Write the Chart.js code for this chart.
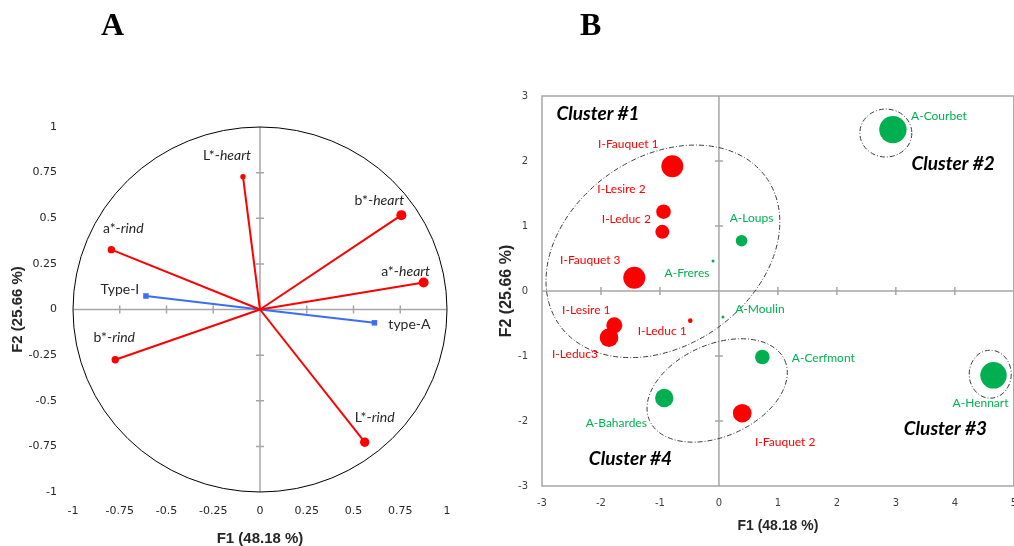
<!DOCTYPE html>
<html lang="en">
<head>
<meta charset="UTF-8">
<title>PCA - cheese colour</title>
<script src="https://cdn.jsdelivr.net/npm/chart.js"></script>
<style>
  html, body { margin: 0; padding: 0; background: #fff; }
  body { position: relative; width: 1014px; height: 546px; overflow: hidden; }
  #panelA { position: absolute; left: 0; top: 0; }
  #panelB { position: absolute; left: 488px; top: 0; }
  .letter { position: absolute; top: 6px; line-height: 1; font: bold 32px "Liberation Serif", "Times New Roman", serif; color: #000; }
  #letterA { left: 101px; }
  #letterB { left: 580px; }
</style>
</head>
<body>
  <canvas id="panelA" width="500" height="546"></canvas>
  <canvas id="panelB" width="540" height="546"></canvas>
  <div class="letter" id="letterA">A</div>
  <div class="letter" id="letterB">B</div>

<script>
// ---- panel A : correlation circle ----
const varBase = ['L*-', 'b*-', 'a*-', 'a*-', 'b*-', 'L*-'];
const varPart = ['heart', 'heart', 'heart', 'rind', 'rind', 'rind'];
const varF1 = [-0.091, 0.756, 0.875, -0.795, -0.774, 0.560];
const varF2 = [0.728, 0.517, 0.148, 0.328, -0.275, -0.727];

// supplementary variables (blue)
const supNames = ['Type-I', 'type-A'];
const supF1 = [-0.61, 0.612];
const supF2 = [0.074, -0.073];

const ticksA = [-1, -0.75, -0.5, -0.25, 0, 0.25, 0.5, 0.75, 1];

// ---- panel B : observations ----
const cheeses = ['I-Fauquet 1', 'I-Lesire 2', 'I-Leduc 2', 'I-Fauquet 3', 'A-Freres', 'A-Loups',
  'I-Lesire 1', 'I-Leduc 1', 'I-Leduc3', 'A-Moulin', 'A-Cerfmont', 'A-Bahardes',
  'I-Fauquet 2', 'A-Courbet', 'A-Hennart'];
const obsF1 = [-0.79, -0.94, -0.96, -1.435, -0.10, 0.384, -1.774, -0.486, -1.864, 0.068, 0.736, -0.927, 0.395, 2.95, 4.656];
const obsF2 = [1.92, 1.22, 0.91, 0.205, 0.46, 0.774, -0.528, -0.456, -0.718, -0.40, -1.015, -1.646, -1.88, 2.483, -1.297];
const obsR = [11, 7.3, 7, 11, 1.5, 5.8, 8, 2.3, 9.3, 1.5, 7.3, 9.2, 9.3, 13.7, 13.2];

const ticksBx = [-3, -2, -1, 0, 1, 2, 3, 4, 5];
const ticksBy = [-3, -2, -1, 0, 1, 2, 3];

const clusterNames = ['Cluster #1', 'Cluster #2', 'Cluster #3', 'Cluster #4'];
const clusterF1 = [-0.95, 2.83, 4.6, -0.03];
const clusterF2 = [0.61, 2.43, -1.28, -1.53];

// ---- styling / placement ----
const RED = '#FF0000', GREEN = '#00B050', BLUE = '#3B6EF5';
const AXIS_GREY = '#A6A6A6';
const TEXT = '#262626';

const varDot = [2.7, 5, 5, 3.7, 3.7, 4.7];
const varLabelOff = [[-16, -21], [-22, -15], [-18, -11], [12, -21], [-1, -22], [10, -25]];
const supLabelOff = [[-26, -7], [35, 2]];

const obsLabelOff = [[-44, -22], [-42, -23], [-36, -13], [-44, -18], [-26, 12], [10, -23],
  [-28, -15], [-28, 10], [-34, 16], [37, -8], [61, 1], [-48, 25], [43, 29], [46, -13], [-13, 28]];

// ellipse half-axes in px and tilt in degrees
const hullShape = [[127, 94, 35.5], [26, 24, 0], [21, 24, 0], [74, 46, 24]];
const clusterTagF1 = [-2.05, 3.97, 3.84, -1.50];
const clusterTagF2 = [2.73, 1.95, -2.12, -2.58];

function fixedTicks(values) {
  return scale => { scale.ticks = values.map(v => ({ value: v })); };
}

// ---------- panel A ----------
const circlePlugin = {
  id: 'circleAxes',
  beforeDatasetsDraw(chart) {
    const { ctx, scales: { x, y } } = chart;
    const x0 = x.getPixelForValue(0), y0 = y.getPixelForValue(0);
    ctx.save();
    ctx.strokeStyle = AXIS_GREY;
    ctx.lineWidth = 1.5;
    ctx.beginPath();
    ctx.moveTo(x.getPixelForValue(-1), y0);
    ctx.lineTo(x.getPixelForValue(1), y0);
    ctx.moveTo(x0, y.getPixelForValue(-1));
    ctx.lineTo(x0, y.getPixelForValue(1));
    ticksA.forEach(v => {
      if (v === 0 || Math.abs(v) === 1) return;
      const px = x.getPixelForValue(v);
      ctx.moveTo(px, y0 - 4); ctx.lineTo(px, y0 + 4);
      const py = y.getPixelForValue(v);
      ctx.moveTo(x0 - 4, py); ctx.lineTo(x0 + 4, py);
    });
    ctx.stroke();

    ctx.strokeStyle = '#000';
    ctx.lineWidth = 1;
    ctx.beginPath();
    ctx.ellipse(x0, y0, x.getPixelForValue(1) - x0, y0 - y.getPixelForValue(1), 0, 0, Math.PI * 2);
    ctx.stroke();
    ctx.restore();
  },
  afterDatasetsDraw(chart) {
    const { ctx, scales: { x, y } } = chart;
    ctx.save();
    ctx.fillStyle = TEXT;
    ctx.textBaseline = 'middle';
    ctx.textAlign = 'left';
    varBase.forEach((base, i) => {
      const cx = x.getPixelForValue(varF1[i]) + varLabelOff[i][0];
      const cy = y.getPixelForValue(varF2[i]) + varLabelOff[i][1];
      ctx.font = '14px Lato';
      const w1 = ctx.measureText(base).width;
      ctx.font = 'italic 14px Lato';
      const w2 = ctx.measureText(varPart[i]).width;
      const left = cx - (w1 + w2) / 2;
      ctx.font = '14px Lato';
      ctx.fillText(base, left, cy);
      ctx.font = 'italic 14px Lato';
      ctx.fillText(varPart[i], left + w1, cy);
    });
    ctx.font = '14px Lato';
    ctx.textAlign = 'center';
    supNames.forEach((name, i) => {
      ctx.fillText(name,
        x.getPixelForValue(supF1[i]) + supLabelOff[i][0],
        y.getPixelForValue(supF2[i]) + supLabelOff[i][1]);
    });
    ctx.restore();
  }
};

const vectorSets = varBase.map((b, i) => ({
  data: [{ x: 0, y: 0 }, { x: varF1[i], y: varF2[i] }],
  showLine: true,
  borderColor: RED,
  borderWidth: 2,
  pointRadius: [0, varDot[i]],
  pointBackgroundColor: RED,
  pointBorderWidth: 0
})).concat(supNames.map((n, i) => ({
  data: [{ x: 0, y: 0 }, { x: supF1[i], y: supF2[i] }],
  showLine: true,
  borderColor: BLUE,
  borderWidth: 2,
  pointStyle: 'rect',
  pointRadius: [0, 3.9],
  pointBackgroundColor: BLUE,
  pointBorderWidth: 0
})));

const tickFontA = { family: 'DejaVu Sans', size: 11 };
const titleFontA = { family: 'Liberation Sans', size: 15, weight: 'bold', lineHeight: 1 };

new Chart(document.getElementById('panelA'), {
  type: 'scatter',
  data: { datasets: vectorSets },
  options: {
    responsive: false,
    animation: false,
    layout: { padding: { left: 0, top: 127, right: 53, bottom: 0 } },
    plugins: { legend: { display: false }, tooltip: { enabled: false } },
    scales: {
      x: {
        type: 'linear', min: -1, max: 1,
        grid: { display: false, drawTicks: false },
        border: { display: false },
        afterBuildTicks: fixedTicks(ticksA),
        afterFit: s => { s.height = 54; },
        ticks: { padding: 13, color: TEXT, font: tickFontA, autoSkip: false, maxRotation: 0, callback: v => String(v) },
        title: { display: true, text: 'F1 (48.18 %)', color: TEXT, font: titleFontA, padding: { top: 0, bottom: 0 } }
      },
      y: {
        type: 'linear', min: -1, max: 1,
        grid: { display: false, drawTicks: false },
        border: { display: false },
        afterBuildTicks: fixedTicks(ticksA),
        afterFit: s => { s.width = 73; },
        ticks: { padding: 16, color: TEXT, font: tickFontA, autoSkip: false, callback: v => String(v) },
        title: { display: true, text: 'F2 (25.66 %)', color: TEXT, font: titleFontA, padding: { top: 10, bottom: 0 } }
      }
    }
  },
  plugins: [circlePlugin]
});

// ---------- panel B ----------
const typeColor = name => name.charAt(0) === 'I' ? RED : GREEN;

const mapPlugin = {
  id: 'mapDecor',
  beforeDatasetsDraw(chart) {
    const { ctx, chartArea: a, scales: { x, y } } = chart;
    const x0 = x.getPixelForValue(0), y0 = y.getPixelForValue(0);
    ctx.save();
    ctx.strokeStyle = AXIS_GREY;
    ctx.lineWidth = 1.5;
    ctx.strokeRect(a.left, a.top, a.right - a.left, a.bottom - a.top);
    ctx.beginPath();
    ctx.moveTo(a.left, y0); ctx.lineTo(a.right, y0);
    ctx.moveTo(x0, a.top); ctx.lineTo(x0, a.bottom);
    ticksBx.slice(1, -1).forEach(v => {
      if (v === 0) return;
      const px = x.getPixelForValue(v);
      ctx.moveTo(px, y0 - 4); ctx.lineTo(px, y0 + 4);
    });
    ticksBy.slice(1, -1).forEach(v => {
      if (v === 0) return;
      const py = y.getPixelForValue(v);
      ctx.moveTo(x0 - 4, py); ctx.lineTo(x0 + 4, py);
    });
    ctx.stroke();
    ctx.restore();
  },
  afterDatasetsDraw(chart) {
    const { ctx, scales: { x, y } } = chart;
    ctx.save();
    // cluster hulls
    ctx.strokeStyle = '#3A3A3A';
    ctx.lineWidth = 1;
    ctx.setLineDash([5, 2, 1, 2]);
    clusterNames.forEach((c, i) => {
      const [ra, rb, tilt] = hullShape[i];
      ctx.beginPath();
      ctx.ellipse(x.getPixelForValue(clusterF1[i]), y.getPixelForValue(clusterF2[i]),
        ra, rb, -tilt * Math.PI / 180, 0, Math.PI * 2);
      ctx.stroke();
    });
    ctx.setLineDash([]);

    // observation names
    ctx.font = '12px Lato';
    ctx.textAlign = 'center';
    ctx.textBaseline = 'middle';
    cheeses.forEach((name, i) => {
      ctx.fillStyle = typeColor(name);
      ctx.fillText(name,
        x.getPixelForValue(obsF1[i]) + obsLabelOff[i][0],
        y.getPixelForValue(obsF2[i]) + obsLabelOff[i][1]);
    });

    // cluster tags
    ctx.fillStyle = '#000';
    ctx.font = 'italic bold 19px Lato';
    clusterNames.forEach((c, i) => {
      ctx.fillText(c, x.getPixelForValue(clusterTagF1[i]), y.getPixelForValue(clusterTagF2[i]));
    });
    ctx.restore();
  }
};

const tickFontB = { family: 'DejaVu Sans', size: 10 };

new Chart(document.getElementById('panelB'), {
  type: 'bubble',
  data: {
    datasets: [{
      data: cheeses.map((n, i) => ({ x: obsF1[i], y: obsF2[i], r: obsR[i] })),
      backgroundColor: cheeses.map(typeColor),
      borderWidth: 0,
      hoverRadius: 0
    }]
  },
  options: {
    responsive: false,
    animation: false,
    layout: { padding: { left: 0, top: 96, right: 14, bottom: 10 } },
    plugins: { legend: { display: false }, tooltip: { enabled: false } },
    scales: {
      x: {
        type: 'linear', min: -3, max: 5,
        grid: { display: false, drawTicks: false },
        border: { display: false },
        afterBuildTicks: fixedTicks(ticksBx),
        afterFit: s => { s.height = 50; },
        ticks: { padding: 11, color: '#404040', font: tickFontB, autoSkip: false, maxRotation: 0, callback: v => String(v) },
        title: { display: true, text: 'F1 (48.18 %)', color: TEXT, font: { family: 'Liberation Sans', size: 14, weight: 'bold', lineHeight: 1 }, padding: { top: 0, bottom: 3 } }
      },
      y: {
        type: 'linear', min: -3, max: 3,
        grid: { display: false, drawTicks: false },
        border: { display: false },
        afterBuildTicks: fixedTicks(ticksBy),
        afterFit: s => { s.width = 54; },
        ticks: { padding: 14, color: '#404040', font: tickFontB, autoSkip: false, callback: v => String(v) },
        title: { display: true, text: 'F2 (25.66 %)', color: TEXT, font: { family: 'Liberation Sans', size: 16, weight: 'bold', lineHeight: 1 }, padding: { top: 11, bottom: 0 } }
      }
    }
  },
  plugins: [mapPlugin]
});
</script>
</body>
</html>
